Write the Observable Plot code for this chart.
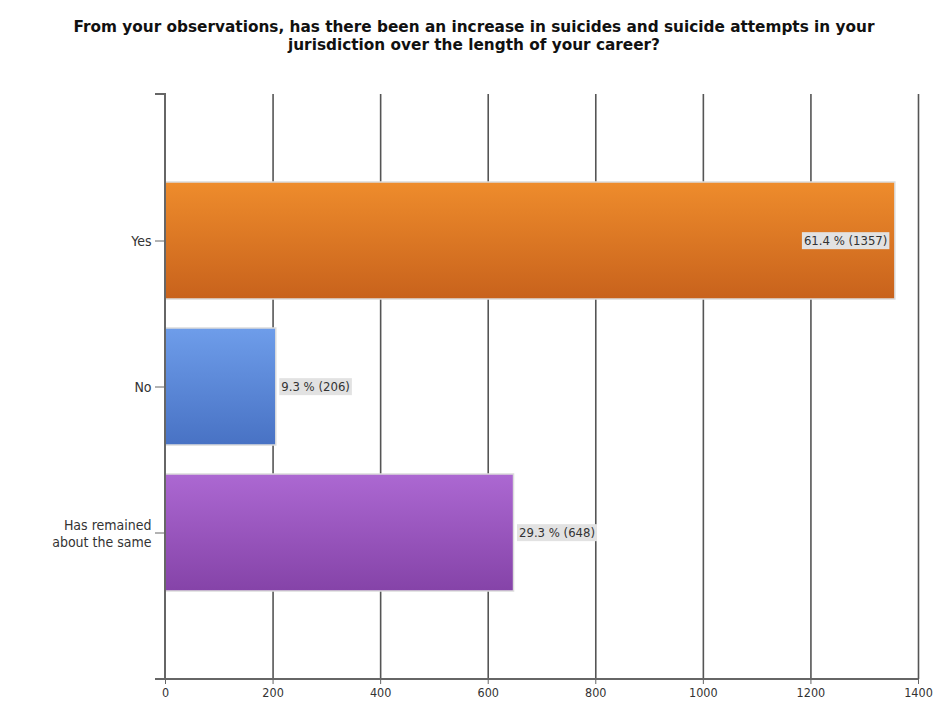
<!DOCTYPE html>
<html>
<head>
<meta charset="utf-8">
<script src="https://cdn.jsdelivr.net/npm/d3@7"></script>
<script src="https://cdn.jsdelivr.net/npm/@observablehq/plot@0.6"></script>
<style>
  body { margin: 0; background: #fff; }
  #title { height: 70px; box-sizing: border-box; padding-top: 18px; text-align: center;
    font: bold 15.3px "DejaVu Sans", "Liberation Sans", Arial, sans-serif; line-height: 18px; color: #111; width: 948px; }
  #chart svg { display: block; }
</style>
</head>
<body>
<div id="title">From your observations, has there been an increase in suicides and suicide attempts in your<br>jurisdiction over the length of your career?</div>
<div id="chart"></div>
<script>
const categories = ["Yes", "No", "Has remained about the same"];
const categoryLabels = ["Yes", "No", "Has remained\nabout the same"];
const counts = [1357, 206, 648];
const percents = [61.4, 9.3, 29.3];
const xTicks = [0, 200, 400, 600, 800, 1000, 1200, 1400];
const gradTop = ["#EE8C2C", "#6E9DEA", "#AC68D2"];
const gradBottom = ["#C8621C", "#4872C4", "#8543A8"];

const data = categories.map((c, i) => ({
  category: c, count: counts[i], pct: percents[i],
  label: `${percents[i].toFixed(1)} % (${counts[i]})`
}));

const narrow = `"Liberation Sans Narrow", "Arial Narrow", "DejaVu Sans Condensed", Arial, sans-serif`;

function gradientDefs() {
  const ns = "http://www.w3.org/2000/svg";
  const defs = document.createElementNS(ns, "defs");
  categories.forEach((c, i) => {
    const lg = document.createElementNS(ns, "linearGradient");
    lg.setAttribute("id", "grad" + i);
    lg.setAttribute("x1", "0"); lg.setAttribute("y1", "0");
    lg.setAttribute("x2", "0"); lg.setAttribute("y2", "1");
    [[0, gradTop[i]], [1, gradBottom[i]]].forEach(([o, col]) => {
      const s = document.createElementNS(ns, "stop");
      s.setAttribute("offset", o); s.setAttribute("stop-color", col);
      lg.appendChild(s);
    });
    defs.appendChild(lg);
  });
  return defs;
}

function axisLines(index, scales, values, dims) {
  const ns = "http://www.w3.org/2000/svg";
  const g = document.createElementNS(ns, "g");
  const x0 = scales.x(0), x1 = scales.x(1400);
  const top = dims.marginTop, bottom = dims.height - dims.marginBottom;
  const p = document.createElementNS(ns, "path");
  p.setAttribute("d", `M${x0 - 10},${top}H${x0}V${bottom}M${x0 - 10},${bottom}H${x1}`);
  p.setAttribute("stroke", "#666");
  p.setAttribute("stroke-width", 2);
  p.setAttribute("fill", "none");
  g.appendChild(p);
  return g;
}

const inside = (d) => d.count > 1000;

const chart = Plot.plot({
  width: 948,
  height: 658,
  marginTop: 24,
  marginBottom: 49,
  marginLeft: 165,
  marginRight: 30,
  style: { fontFamily: narrow, fontSize: "12px", color: "#333", background: "#fff" },
  x: { domain: [0, 1400], ticks: xTicks },
  y: { domain: categories, paddingInner: 0.2, paddingOuter: 0.6 },
  marks: [
    gradientDefs,
    Plot.ruleX(xTicks.slice(1), { stroke: "#555", strokeWidth: 1.6 }),
    ...data.map((d, i) => Plot.barX([d], {
      x: "count", y: "category", fill: `url(#grad${i})`,
      stroke: "#dcdcdc", strokeWidth: 1.5
    })),
    axisLines,
    Plot.axisX({ ticks: xTicks, tickSize: 5, tickPadding: 4, stroke: "#666", fontSize: 12.5, fill: "#333", label: null,
      tickFormat: (d) => String(d) }),
    Plot.axisY({ tickSize: 10, tickPadding: 4, stroke: "#666", fontSize: 14, fill: "#333", lineHeight: 1.2,
      tickFormat: (c) => categoryLabels[categories.indexOf(c)], label: null }),
    Plot.text(data.filter(inside), {
      x: "count", y: "category", text: "label", textAnchor: "end", dx: -8,
      fontSize: 13, fill: "#333"
    }),
    Plot.text(data.filter((d) => !inside(d)), {
      x: "count", y: "category", text: "label", textAnchor: "start", dx: 5,
      fontSize: 13, fill: "#333"
    })
  ]
});

document.getElementById("chart").appendChild(chart);

// light-gray background boxes behind the value labels
const ns = "http://www.w3.org/2000/svg";
chart.querySelectorAll('g[aria-label="text"]').forEach((grp) => {
  grp.querySelectorAll("text").forEach((t) => {
    const bb = t.getBBox();
    const r = document.createElementNS(ns, "rect");
    r.setAttribute("x", bb.x - 2);
    r.setAttribute("y", bb.y - 1);
    r.setAttribute("width", bb.width + 4);
    r.setAttribute("height", bb.height + 2);
    r.setAttribute("fill", "#e2e2e2");
    const tr = t.getAttribute("transform");
    if (tr) r.setAttribute("transform", tr);
    t.parentNode.insertBefore(r, t);
  });
});
</script>
</body>
</html>
